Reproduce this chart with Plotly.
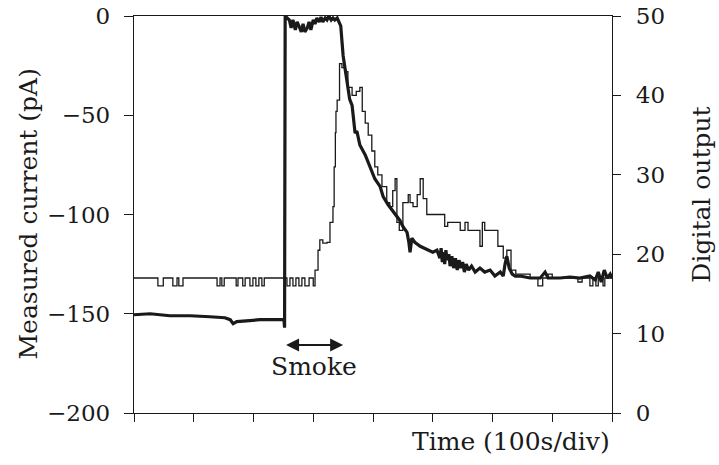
import plotly.graph_objects as go

# ---- data (time in seconds, 100 s per division) ----
t_current = [0, 27, 60, 94, 127, 152, 161, 166, 172, 186, 211, 251, 252,
             253, 256, 260, 263, 266, 270, 273, 276, 280, 283, 286, 290, 293, 296,
             300, 303, 306, 310, 313, 316, 320, 323, 326, 330, 333, 336, 340, 343, 346,
             350, 356, 361, 365, 370, 373, 378, 387, 395, 403, 412, 417, 425, 433,
             438, 445, 450, 457, 460, 462, 465, 470, 479, 487, 495, 500, 507, 512,
             514, 516, 518, 520, 522, 524, 527, 529, 532, 535, 538, 541, 544, 547,
             550, 553, 556, 560, 565, 571, 579, 587, 596, 604, 613, 618,
             621, 624, 628, 633, 638, 646, 663, 680, 688, 693, 713, 730, 746, 763,
             772, 777, 782, 787, 792, 797, 800]
current = [-150.5, -150, -151, -151, -151.5, -152, -153, -155, -154, -153.5, -153, -153, -157,
           0, -1, -2, -6, -2, -7, -3, -5, -8, -4, -8, -6, -3, -7,
           -2, -4, -1, -3, -0.5, -3, -1, -2, 0, -2, -1, -2, -1, -3, -5,
           -20, -32, -42, -45, -59, -58, -65, -70, -76, -82, -86, -91, -95, -98,
           -100, -103, -106, -109, -114, -119, -112, -114, -116, -117, -118, -119, -118, -122,
           -117, -124, -119, -125, -118, -123, -120, -126, -121, -127, -122, -128, -123, -127,
           -124, -129, -125, -128, -126, -129, -127, -129, -128, -131, -129, -131,
           -125, -121, -127, -130, -131, -131, -132, -132, -129, -132, -132, -131.5, -132, -131,
           -133, -129, -134, -128, -132, -130, -132]

t_digital = [0, 40, 49, 65, 72, 75, 82, 139, 144, 147, 151, 171, 174, 182, 186,
             194, 199, 204, 209, 214, 218, 256, 261, 266, 271, 276, 281, 286, 293,
             300, 303, 308, 311, 316, 323, 328, 332, 333, 335, 337, 338, 340,
             344, 348, 353, 358, 365, 372, 378, 382, 387, 392, 398, 403, 408, 415,
             423, 428, 433, 437, 440, 444, 450, 459, 462, 467, 474, 479, 484, 490,
             515, 520, 525, 541, 546, 554, 559, 576, 579, 583, 587, 604, 609, 618,
             624, 631, 639, 663, 676, 684, 693, 700, 743, 750, 763, 768, 773, 777,
             785, 788, 800]
digital = [17, 16, 17, 16, 17, 16, 17, 16, 17, 16, 17, 16, 17, 16, 17,
           16, 17, 16, 17, 16, 17, 16, 17, 16, 17, 16, 17, 16, 17,
           16, 18, 20.5, 21.8, 21.4, 21.5, 24, 24, 26, 31, 35.3, 38, 39.4,
           44, 43.5, 43, 41, 40, 40.5, 41, 38, 36.5, 35, 33, 31, 30, 28.5,
           26.5, 26, 28, 29.5, 24, 23, 26.5, 27.5, 26.5, 26, 27.5, 29.5, 27, 25,
           25, 23.5, 24, 24, 23, 24, 23, 23, 21, 24, 23, 23, 21, 19.5,
           20.5, 18, 17.5, 17, 16, 17, 17.5, 17, 16.5, 17, 16, 17, 16, 17,
           16, 17, 17]

x_ticks = [0, 100, 200, 300, 400, 500, 600, 700, 800]
left_ticks = [0, -50, -100, -150, -200]
right_ticks = [0, 10, 20, 30, 40, 50]

smoke_start, smoke_end, smoke_level = 252, 350, -165.7

FONT = "DejaVu Serif"
INK = "#1a1a1a"
TICK_SIZE = 23
TITLE_SIZE = 25

fig = go.Figure()
fig.add_trace(go.Scatter(x=t_digital, y=digital, mode="lines", yaxis="y2",
                         line=dict(color=INK, width=1.3, shape="hv"), showlegend=False))
fig.add_trace(go.Scatter(x=t_current, y=current, mode="lines",
                         line=dict(color=INK, width=3.2), showlegend=False))

axis_common = dict(showline=True, linecolor=INK, linewidth=1.3, ticks="outside",
                   tickcolor=INK, tickwidth=1.3, showgrid=False, zeroline=False,
                   automargin=False,
                   tickfont=dict(family=FONT, size=TICK_SIZE, color=INK))

fig.update_layout(
    width=719, height=465,
    margin=dict(l=134, r=107, t=16, b=52),
    paper_bgcolor="white", plot_bgcolor="white",
    xaxis=dict(range=[0, 800], tickvals=x_ticks, showticklabels=False, ticklen=8,
               mirror=True, **axis_common),
    yaxis=dict(range=[-200, 0], tickvals=left_ticks, ticklen=9, ticklabelstandoff=9,
               **axis_common),
    yaxis2=dict(range=[0, 50], tickvals=right_ticks, ticklen=8, overlaying="y",
                side="right", ticklabelstandoff=10, **axis_common),
    font=dict(family=FONT, size=TICK_SIZE, color=INK),
)

fig.add_annotation(text="Time (100s/div)", xref="paper", yref="paper", x=1.0, y=0,
                   xanchor="right", yanchor="top", yshift=-12, showarrow=False,
                   font=dict(family=FONT, size=TITLE_SIZE, color=INK))
fig.add_annotation(text="Measured current (pA)", xref="paper", yref="paper",
                   x=0, y=0.5, xanchor="center", yanchor="middle", xshift=-106,
                   textangle=-90, showarrow=False,
                   font=dict(family=FONT, size=TITLE_SIZE, color=INK))
fig.add_annotation(text="Digital output", xref="paper", yref="paper",
                   x=1, y=0.55, xanchor="center", yanchor="middle", xshift=90,
                   textangle=-90, showarrow=False,
                   font=dict(family=FONT, size=TITLE_SIZE, color=INK))
# Smoke double arrow
fig.add_annotation(x=smoke_end, y=smoke_level, ax=smoke_start, ay=smoke_level,
                   xref="x", yref="y", axref="x", ayref="y", text="",
                   showarrow=True, arrowhead=2, arrowside="end+start",
                   arrowsize=1.3, arrowwidth=2, arrowcolor=INK)
fig.add_annotation(x=(smoke_start + smoke_end) / 2, y=smoke_level, xref="x", yref="y",
                   text="Smoke", showarrow=False, yanchor="top", yshift=-5,
                   font=dict(family=FONT, size=TITLE_SIZE, color=INK))

fig.write_html("out.html")
